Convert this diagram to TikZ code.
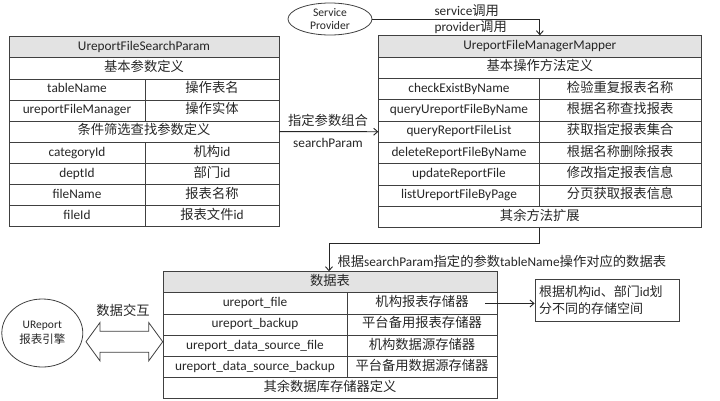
\documentclass[tikz,border=0pt]{standalone}
\usepackage{fontspec}
\setmainfont{Carlito}
\newfontfamily\cjk{Noto Sans CJK SC}
\usetikzlibrary{arrows.meta,shapes.geometric}
\begin{document}
\begin{tikzpicture}[x=1pt,y=-1pt,
  every node/.style={font=\fontsize{13.3}{16}\selectfont, text=black!85},
  cell/.style={draw=black!75, line width=0.8pt, inner sep=0pt, text height=9.5pt, text depth=3pt},
  hdr/.style={cell, fill=gray!22},
  lw/.style={minimum width=270, minimum height=21.1},
  la/.style={cell, minimum width=136, minimum height=21.1},
  lb/.style={cell, minimum width=134, minimum height=21.1},
  rw/.style={minimum width=322.3, minimum height=21.33},
  ra/.style={cell, minimum width=160.6, minimum height=21.33},
  rb/.style={cell, minimum width=161.7, minimum height=21.33},
  bw/.style={minimum width=334, minimum height=21.17},
  ba/.style={cell, minimum width=184, minimum height=21.17},
  bb/.style={cell, minimum width=150, minimum height=21.17},
  arr/.style={draw=black!85, line width=0.9pt, -{Straight Barb[length=4pt,width=7pt]}},
]
\useasboundingbox (0,0) rectangle (720,400);

% left table
\node[hdr, lw] (L0) at (144,47.25) {UreportFileSearchParam};
\node[cell, lw] (L1) at (144,68.35) {{\cjk 基本参数定义}};
\node[la] (L2a) at (77,89.45) {tableName};
\node[lb] (L2b) at (212,89.45) {{\cjk 操作表名}};
\node[la] (L3a) at (77,110.55) {ureportFileManager};
\node[lb] (L3b) at (212,110.55) {{\cjk 操作实体}};
\node[cell, lw] (L4) at (144,131.65) {{\cjk 条件筛选查找参数定义}};
\node[la] (L5a) at (77,152.75) {categoryId};
\node[lb] (L5b) at (212,152.75) {{\cjk 机构}id};
\node[la] (L6a) at (77,173.85) {deptId};
\node[lb] (L6b) at (212,173.85) {{\cjk 部门}id};
\node[la] (L7a) at (77,194.95) {fileName};
\node[lb] (L7b) at (212,194.95) {{\cjk 报表名称}};
\node[la] (L8a) at (77,216.05) {fileId};
\node[lb] (L8b) at (212,216.05) {{\cjk 报表文件}id};

% right table
\node[hdr, rw] (R0) at (539.85,46.37) {UreportFileManagerMapper};
\node[cell, rw] (R1) at (539.85,67.70) {{\cjk 基本操作方法定义}};
\node[ra] (R2a) at (459,89.03) {checkExistByName};
\node[rb] (R2b) at (620.15,89.03) {{\cjk 检验重复报表名称}};
\node[ra] (R3a) at (459,110.37) {queryUreportFileByName};
\node[rb] (R3b) at (620.15,110.37) {{\cjk 根据名称查找报表}};
\node[ra] (R4a) at (459,131.70) {queryReportFileList};
\node[rb] (R4b) at (620.15,131.70) {{\cjk 获取指定报表集合}};
\node[ra] (R5a) at (459,153.03) {deleteReportFileByName};
\node[rb] (R5b) at (620.15,153.03) {{\cjk 根据名称删除报表}};
\node[ra] (R6a) at (459,174.37) {updateReportFile};
\node[rb] (R6b) at (620.15,174.37) {{\cjk 修改指定报表信息}};
\node[ra] (R7a) at (459,195.70) {listUreportFileByPage};
\node[rb] (R7b) at (620.15,195.70) {{\cjk 分页获取报表信息}};
\node[cell, rw] (R8) at (539.85,217.03) {{\cjk 其余方法扩展}};

% bottom table
\node[hdr, bw] (B0) at (330,282.28) {{\cjk 数据表}};
\node[ba] (B1a) at (255,303.45) {ureport\_file};
\node[bb] (B1b) at (422,303.45) {{\cjk 机构报表存储器}};
\node[ba] (B2a) at (255,324.62) {ureport\_backup};
\node[bb] (B2b) at (422,324.62) {{\cjk 平台备用报表存储器}};
\node[ba] (B3a) at (255,345.78) {ureport\_data\_source\_file};
\node[bb] (B3b) at (422,345.78) {{\cjk 机构数据源存储器}};
\node[ba] (B4a) at (255,366.95) {ureport\_data\_source\_backup};
\node[bb] (B4b) at (422,366.95) {{\cjk 平台备用数据源存储器}};
\node[cell, bw] (B5) at (330,388.12) {{\cjk 其余数据库存储器定义}};

% ellipses
\node[draw=black!75, line width=0.8pt, ellipse, minimum width=84, minimum height=32, inner sep=0pt,
      align=center, font=\fontsize{11.6}{13.4}\selectfont] (sp) at (330,19) {Service\\Provider};
\node[draw=black!75, line width=0.8pt, ellipse, minimum width=81, minimum height=68, inner sep=0pt,
      align=center, font=\fontsize{11.5}{15}\selectfont] (ur) at (42.3,333) {UReport\\{\cjk 报表引擎}};

% note
\node[draw=black!75, line width=0.8pt, minimum width=144, minimum height=42.7, inner sep=4pt,
      text width=136, align=left, font=\fontsize{13}{16.7}\selectfont] (note) at (607,300.35)
      {{\cjk 根据机构}id{\cjk 、部门}id{\cjk 划}\\{\cjk 分不同的存储空间}};

% labels
\node[anchor=west] (lsvc) at (431,11) {service{\cjk 调用}};
\node[anchor=west] (lprov) at (431,27) {provider{\cjk 调用}};
\node (lzd) at (328,120) {{\cjk 指定参数组合}};
\node (lsp) at (328,143) {searchParam};
\node[anchor=west] (lgj) at (334,261.7) {{\cjk 根据}searchParam{\cjk 指定的参数}tableName{\cjk 操作对应的数据表}};
\node (ljh) at (123,310.7) {{\cjk 数据交互}};

% connectors
\draw[arr] (sp.east) -| (R0.north);
\draw[arr] (L4.east) -- (R4a.west);
\coordinate (k1) at (329,243.3);
\draw[arr] (R8.south) |- (k1) -- (k1 |- B0.north);
\coordinate (na) at (485,303.45);
\draw[arr] (na) -- (na -| note.west);

% double arrow
\draw[draw=black!75, line width=0.8pt, fill=white]
  (86,341.7) -- (100,322.5) -- (100,331.2) -- (148.7,331.2) -- (148.7,322.5) -- (162.7,341.7)
  -- (148.7,360.9) -- (148.7,352.2) -- (100,352.2) -- (100,360.9) -- cycle;
\end{tikzpicture}
\end{document}
